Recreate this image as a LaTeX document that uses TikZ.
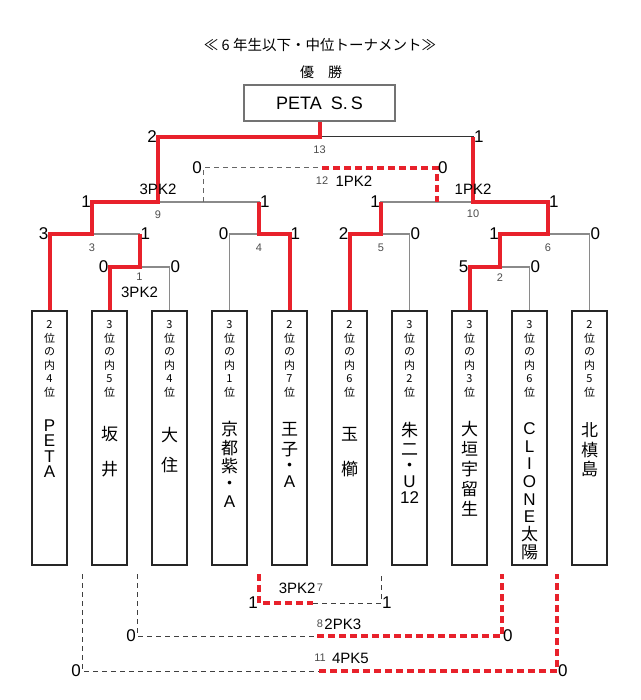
\documentclass[tikz,border=0pt]{standalone}
\usepackage{fontspec}
\setmainfont{Liberation Sans}
\newfontfamily\jp{Noto Sans CJK JP}
\usetikzlibrary{positioning}
\definecolor{winred}{HTML}{E8212B}
\definecolor{linegray}{HTML}{8A8A8A}

\begin{document}
\begin{tikzpicture}[x=1pt, y=-1pt,
    team/.style = {draw=black!85, line width=1.2pt, minimum width=35pt, minimum height=254pt, inner sep=0},
    rank/.style = {font=\jp\fontsize{11}{13.5}\selectfont, text width=20pt, align=center, inner sep=0},
    tname/.style = {text width=35pt, align=center, inner sep=0},
    lose/.style = {draw=linegray, line width=1.6pt},
    thinline/.style = {draw=black!80, line width=1pt},
    win/.style = {draw=winred, line width=4pt},
    windot/.style = {draw=winred, line width=4pt, dash pattern=on 7pt off 4pt},
    plan/.style = {draw=black!75, line width=1pt, dash pattern=on 5pt off 4pt},
    score/.style = {font=\fontsize{17}{17}\selectfont, inner sep=1pt},
    pk/.style = {font=\fontsize{15}{15}\selectfont, inner sep=0},
    num/.style = {font=\fontsize{11}{11}\selectfont, text=black!70, inner sep=0}]

\useasboundingbox (0,0) rectangle (640,700);

% heading
\node[font=\jp\fontsize{14.5}{14.5}\selectfont] (title) at (320,45) {≪ 6 年生以下・中位トーナメント≫};
\node[font=\jp\fontsize{14}{14}\selectfont] (yusho) at (321,72) {優　勝};
\node[draw=black!55, line width=2pt, minimum width=151pt, minimum height=36pt,
      font=\fontsize{18}{18}\selectfont] (champ) at (319.5,103) {PETA\hspace{9pt}S.\hspace{3pt}S};

% teams
\foreach \i in {1,...,10}
    \node[team] (t\i) at ({49.5+60*(\i-1)},438) {};
\foreach \i/\rg/\rn/\nm/\dy/\bs in {
    1/2/4/{\rmfamily P\\E\\T\\A}/109/15.5,
    2/3/5/{坂\\井}/116/35,
    3/3/4/{大\\住}/117/30,
    4/3/1/{京\\都\\紫\\[-2pt]・\\\rmfamily A}/111/18.5,
    5/2/7/{王\\[4pt]子\\・\\\rmfamily A}/112/16,
    6/2/6/{玉\\櫛}/117/35,
    7/3/2/{朱\\[3pt]二\\・\\\rmfamily U\\12}/112/16,
    8/3/3/{大\\垣\\宇\\留\\生}/111/20,
    9/3/6/{\rmfamily C\\L\\I\\O\\N\\E\\\jp 太\\陽}/112/17.7,
    10/2/5/{北\\槙\\島}/112/19.5}
{
    \node[rank, below=10pt of t\i.north] (rk\i) {\rg\\位\\の\\内\\\rn\\位};
    \node[tname, font=\jp\fontsize{17}{\bs}\selectfont, below=\dy pt of t\i.north] (nm\i) {\nm};
}

% bracket points
\coordinate (m1) at (139.5,267);
\coordinate (m2) at (500,267);
\coordinate (m3) at (92,234);
\coordinate (m4) at (259,234);
\coordinate (m5) at (381,234);
\coordinate (m6) at (548,234);
\coordinate (m9) at (158,202);
\coordinate (m10) at (473,202);
\coordinate (m13) at (319.5,137);
\coordinate (m12l) at (203,168);
\coordinate (m12) at (322,168);
\coordinate (m12r) at (437,168);
\coordinate (low) at (0,574);
\coordinate (m7l) at (259,603);
\coordinate (m7) at (313,603);
\coordinate (m7r) at (381,603);
\coordinate (m8l) at (137,636);
\coordinate (m8) at (317,636);
\coordinate (m8r) at (502,636);
\coordinate (m11l) at (82,671);
\coordinate (m11) at (319,671);
\coordinate (m11r) at (557,671);

% losing sides
\draw[lose] (t2.north) |- (m1) -| (t3.north);
\draw[lose] (t8.north) |- (m2) -| (t9.north);
\draw[lose] (t1.north) |- (m3) -| (m1);
\draw[lose] (t4.north) |- (m4) -| (t5.north);
\draw[lose] (t6.north) |- (m5) -| (t7.north);
\draw[lose] (m2) |- (m6) -| (t10.north);
\draw[lose] (m3) |- (m9) -| (m4);
\draw[lose] (m5) |- (m10) -| (m6);
\draw[thinline] (m13) -| (m10);
\draw[plan, draw=black!60] (m12l |- m9) -- (m12l) -- (m12);

% winning runs
\draw[win] (t1.north) |- (m3) |- (m9) |- (m13) -- (champ.south);
\draw[win] (t2.north) |- (m1) -- (m1 |- m3);
\draw[win] (t5.north) |- (m4) -- (m4 |- m9);
\draw[win] (t6.north) |- (m5) -- (m5 |- m10);
\draw[win] (t8.north) |- (m2) |- (m6) |- (m10) -- (m10 |- m13);
\draw[windot] (m12) -- (m12r) -- (m12r |- m10);

% placing matches
\draw[windot] (m7l |- low) -- (m7l) -- (m7);
\draw[plan] (m7) -- (m7r) -- (m7r |- low);
\draw[plan] (m8l |- low) -- (m8l) -- (m8);
\draw[windot] (m8) -- (m8r) -- (m8r |- low);
\draw[plan] (m11l |- low) -- (m11l) -- (m11);
\draw[windot] (m11) -- (m11r) -- (m11r |- low);

% scores
\node[score, left] (s13l) at (m9 |- m13) {2};
\node[score, right] (s13r) at (m10 |- m13) {1};
\node[score, left] (s12l) at (m12l) {0};
\node[score, right] (s12r) at (m12r) {0};
\node[score, left] (s9l) at (m3 |- m9) {1};
\node[score, right] (s9r) at (m4 |- m9) {1};
\node[score, left] (s10l) at (m5 |- m10) {1};
\node[score, right] (s10r) at (m6 |- m10) {1};
\node[score, left] (s3l) at (t1.north |- m3) {3};
\node[score, right] (s3r) at (m1 |- m3) {1};
\node[score, left] (s4l) at (t4.north |- m4) {0};
\node[score, right] (s4r) at (t5.north |- m4) {1};
\node[score, left] (s5l) at (t6.north |- m5) {2};
\node[score, right] (s5r) at (t7.north |- m5) {0};
\node[score, left] (s6l) at (m2 |- m6) {1};
\node[score, right] (s6r) at (t10.north |- m6) {0};
\node[score, left] (s1l) at (t2.north |- m1) {0};
\node[score, right] (s1r) at (t3.north |- m1) {0};
\node[score, left] (s2l) at (t8.north |- m2) {5};
\node[score, right] (s2r) at (t9.north |- m2) {0};
\node[score, left] (s7l) at (m7l) {1};
\node[score, right] (s7r) at (m7r) {1};
\node[score, left] (s8l) at (m8l) {0};
\node[score, right] (s8r) at (m8r) {0};
\node[score, left] (s11l) at (m11l) {0};
\node[score, right] (s11r) at (m11r) {0};

% match numbers and PK results
\node[num, below=6pt of m1] (no1) {1};
\node[num, below=7pt of m2] (no2) {2};
\node[num, below=10pt of m3] (no3) {3};
\node[num, below=10pt of m4] (no4) {4};
\node[num, below=10pt of m5] (no5) {5};
\node[num, below=10pt of m6] (no6) {6};
\node[num, below=9pt of m9] (no9) {9};
\node[num, below=8pt of m10] (no10) {10};
\node[num, below=9pt of m12] (no12) {12};
\node[num, below=9pt of m13] (no13) {13};
\node[num] (no7) at (320,588) {7};
\node[num] (no8) at (320,624) {8};
\node[num] (no11) at (320,658) {11};

\node[pk, below=20pt of m1] (pk1) {3PK2};
\node[pk, above=7pt of m9] (pk9) {3PK2};
\node[pk, above=7pt of m10] (pk10) {1PK2};
\node[pk, right=7pt of no12] (pk12) {1PK2};
\node[pk, left=1pt of no7] (pk7) {3PK2};
\node[pk, right=1pt of no8] (pk8) {2PK3};
\node[pk, right=6pt of no11] (pk11) {4PK5};
\end{tikzpicture}
\end{document}
